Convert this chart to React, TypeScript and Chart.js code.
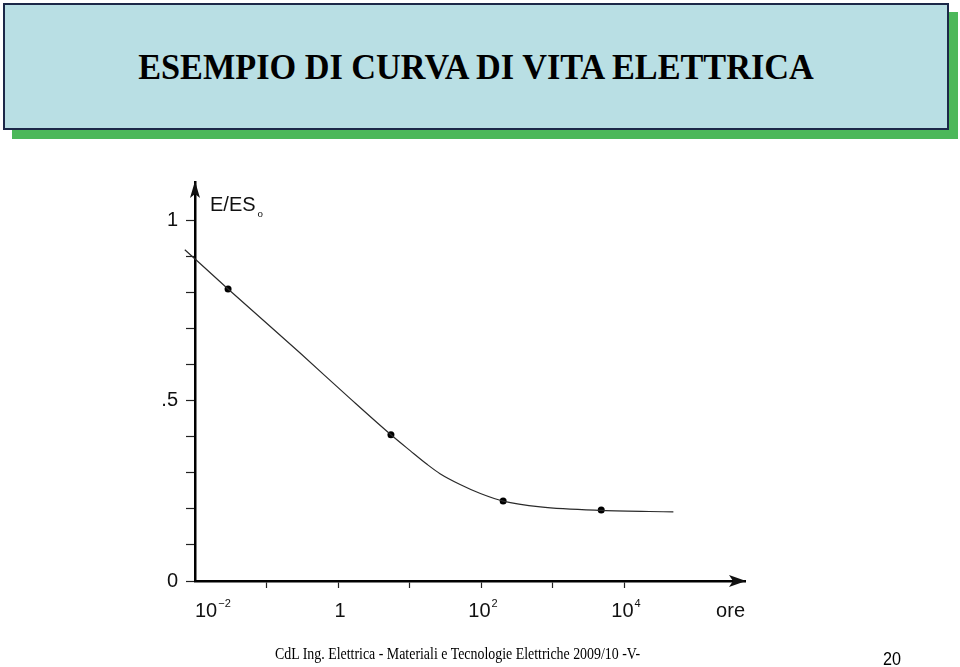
import React, { useEffect, useRef, useMemo } from 'react';
import { Chart, registerables } from 'chart.js';

Chart.register(...registerables);

// ---- texts ----
const TITLE = 'ESEMPIO DI CURVA DI VITA ELETTRICA';
const FOOTER = 'CdL Ing. Elettrica - Materiali e Tecnologie Elettriche 2009/10 -V-';
const PAGE_NUMBER = '20';
const Y_AXIS_TITLE = 'E/ES';
const Y_AXIS_SUB = 'o';
const X_AXIS_TITLE = 'ore';

// ---- data (hours, E/ES0) ----
const pointHours = [0.029, 5.5, 204, 4800];
const pointValues = [0.811, 0.406, 0.222, 0.197];

const curveHours = [0.0072, 0.029, 0.295, 1.47, 5.5, 10.2, 17.6, 26.7, 51, 98, 204, 675, 4800, 49000];
const curveValues = [0.92, 0.811, 0.633, 0.507, 0.406, 0.362, 0.324, 0.298, 0.268, 0.243, 0.222, 0.206, 0.196, 0.192];

// ---- axes ----
const X_MIN = 0.01;
const X_MAX = 492000;
const Y_MIN = 0;
const Y_MAX = 1.108;

const xTickValues = [0.1, 1, 10, 100, 1000, 10000];
const xLabelValues = [0.01, 1, 100, 10000];
const xLabelBases = ['10', '1', '10', '10'];
const xLabelExps = ['\u22122', '', '2', '4'];

const yTickValues = [0, 0.1, 0.2, 0.3, 0.4, 0.5, 0.6, 0.7, 0.8, 0.9, 1];
const yTickLabels = ['0', '', '', '', '', '.5', '', '', '', '', '1'];

const SANS = '"Liberation Sans", Arial, sans-serif';
const SERIF = '"Liberation Serif", "Times New Roman", serif';

function fitScale(text: string, font: string, target: number): number {
  const c = document.createElement('canvas').getContext('2d');
  if (!c) return 1;
  c.font = font;
  const w = c.measureText(text).width;
  return w > 0 ? target / w : 1;
}

const decorPlugin = {
  id: 'decor',
  afterDraw(chart: any) {
    const { ctx, chartArea: a, scales } = chart;
    const xs = scales.x;
    ctx.save();
    ctx.fillStyle = '#111';

    // arrow heads
    ctx.beginPath();
    ctx.moveTo(a.right + 1, a.bottom);
    ctx.lineTo(a.right - 16, a.bottom - 6);
    ctx.lineTo(a.right - 12, a.bottom);
    ctx.lineTo(a.right - 16, a.bottom + 6);
    ctx.closePath();
    ctx.fill();

    ctx.beginPath();
    ctx.moveTo(a.left, a.top - 1);
    ctx.lineTo(a.left - 5, a.top + 16);
    ctx.lineTo(a.left, a.top + 12);
    ctx.lineTo(a.left + 5, a.top + 16);
    ctx.closePath();
    ctx.fill();

    // x labels
    const baseline = a.bottom + 36;
    ctx.textBaseline = 'alphabetic';
    ctx.textAlign = 'left';
    xLabelValues.forEach((v, i) => {
      const px = xs.getPixelForValue(v);
      ctx.font = `20px ${SANS}`;
      const bw = ctx.measureText(xLabelBases[i]).width;
      ctx.font = `11px ${SANS}`;
      const ew = xLabelExps[i] ? ctx.measureText(xLabelExps[i]).width + 1 : 0;
      const total = bw + ew;
      const start = i === 0 ? px : px - total / 2 + 2;
      ctx.font = `20px ${SANS}`;
      ctx.fillText(xLabelBases[i], start, baseline);
      if (xLabelExps[i]) {
        ctx.font = `11px ${SANS}`;
        ctx.fillText(xLabelExps[i], start + bw + 1, baseline - 10);
      }
    });

    // x axis title
    ctx.font = `20px ${SANS}`;
    ctx.textAlign = 'right';
    ctx.fillText(X_AXIS_TITLE, a.right, baseline);

    // y axis title
    ctx.textAlign = 'left';
    ctx.font = `20px ${SANS}`;
    const tx = a.left + 15;
    const ty = a.top + 29;
    ctx.fillText(Y_AXIS_TITLE, tx, ty);
    const tw = ctx.measureText(Y_AXIS_TITLE).width;
    ctx.font = `11px ${SERIF}`;
    ctx.fillText(Y_AXIS_SUB, tx + tw + 2, ty + 6);

    ctx.restore();
  },
};

export default function App() {
  const canvasRef = useRef<HTMLCanvasElement | null>(null);

  const titleScale = useMemo(() => fitScale(TITLE, `bold 36px ${SERIF}`, 680), []);
  const footerScale = useMemo(() => fitScale(FOOTER, `16px ${SERIF}`, 366), []);
  const pageScale = useMemo(() => fitScale(PAGE_NUMBER, `19px ${SANS}`, 18), []);

  useEffect(() => {
    const canvas = canvasRef.current;
    if (!canvas) return;
    const chart = new Chart(canvas, {
      type: 'line',
      data: {
        datasets: [
          {
            label: 'curve',
            data: curveHours.map((h, i) => ({ x: h, y: curveValues[i] })),
            borderColor: '#2a2a2a',
            borderWidth: 1.2,
            pointRadius: 0,
            cubicInterpolationMode: 'monotone',
            fill: false,
            clip: false as any,
          },
          {
            label: 'points',
            data: pointHours.map((h, i) => ({ x: h, y: pointValues[i] })),
            showLine: false,
            pointRadius: 3.5,
            pointBackgroundColor: '#000',
            pointBorderColor: '#000',
            pointBorderWidth: 0,
            clip: false as any,
          },
        ],
      },
      options: {
        responsive: false,
        animation: false,
        layout: { padding: { left: 150, top: 182, right: 215, bottom: 46 } },
        plugins: {
          legend: { display: false },
          tooltip: { enabled: false },
        },
        scales: {
          x: {
            type: 'logarithmic',
            min: X_MIN,
            max: X_MAX,
            afterBuildTicks: (s: any) => {
              s.ticks = xTickValues.map((v) => ({ value: v }));
            },
            afterFit: (s: any) => {
              s.height = 40;
            },
            ticks: { display: false },
            grid: {
              drawOnChartArea: false,
              drawTicks: true,
              tickLength: 7,
              tickColor: '#222',
              tickWidth: 1.2,
            },
            border: { display: true, color: '#000', width: 2.5 },
          },
          y: {
            type: 'linear',
            min: Y_MIN,
            max: Y_MAX,
            afterBuildTicks: (s: any) => {
              s.ticks = yTickValues.map((v) => ({ value: v }));
            },
            afterFit: (s: any) => {
              s.width = 45;
            },
            ticks: {
              autoSkip: false,
              callback: (_v: any, i: number) => yTickLabels[i],
              font: { family: 'Liberation Sans', size: 20 },
              color: '#111',
              padding: 8,
            },
            grid: {
              drawOnChartArea: false,
              drawTicks: true,
              tickLength: 9,
              tickColor: '#222',
              tickWidth: 1.2,
            },
            border: { display: true, color: '#000', width: 2.5 },
          },
        },
      } as any,
      plugins: [decorPlugin],
    });
    return () => chart.destroy();
  }, []);

  return (
    <div>
      <div
        style={{
          position: 'absolute',
          left: 3,
          top: 3,
          width: 946,
          height: 127,
          boxSizing: 'border-box',
          background: '#b9dfe4',
          border: '2px solid #1c2848',
          boxShadow: '9px 9px 0 #4cb85a',
          display: 'flex',
          alignItems: 'center',
          justifyContent: 'center',
        }}
      >
        <span
          style={{
            font: `bold 36px ${SERIF}`,
            color: '#000',
            whiteSpace: 'nowrap',
            transform: `scaleX(${titleScale})`,
            display: 'inline-block',
          }}
        >
          {TITLE}
        </span>
      </div>
      <canvas
        ref={canvasRef}
        width={960}
        height={667}
        style={{ position: 'absolute', left: 0, top: 0, display: 'block' }}
      />
      <div
        style={{
          position: 'absolute',
          left: 275,
          top: 646,
          font: `16px ${SERIF}`,
          lineHeight: '16px',
          whiteSpace: 'nowrap',
          color: '#000',
          transformOrigin: 'left top',
          transform: `scaleX(${footerScale})`,
        }}
      >
        {FOOTER}
      </div>
      <div
        style={{
          position: 'absolute',
          left: 883,
          top: 649,
          font: `19px ${SANS}`,
          lineHeight: '19px',
          whiteSpace: 'nowrap',
          color: '#000',
          transformOrigin: 'left top',
          transform: `scaleX(${pageScale})`,
        }}
      >
        {PAGE_NUMBER}
      </div>
    </div>
  );
}
